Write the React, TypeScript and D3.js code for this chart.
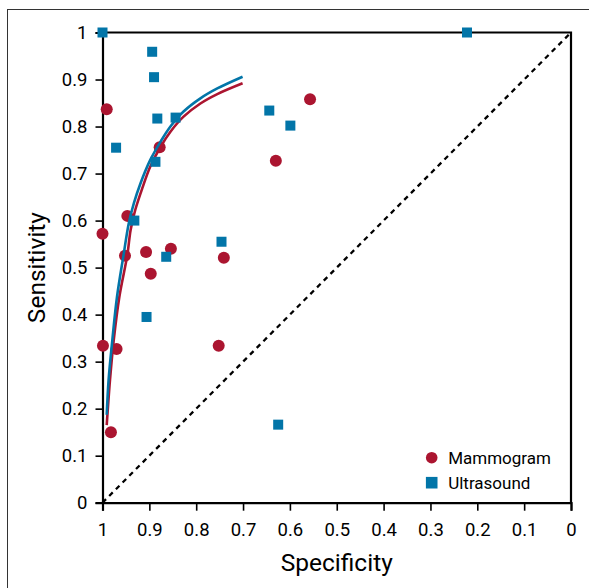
import * as d3 from 'd3';
import React, { useEffect, useRef } from 'react';

// study points: [specificity, sensitivity]
const mammogramSpec = [0.991, 1.0, 0.947, 0.952, 0.907, 0.897, 0.854, 0.741, 0.999, 0.97, 0.752, 0.982, 0.878, 0.557, 0.63];
const mammogramSens = [0.837, 0.572, 0.61, 0.525, 0.533, 0.487, 0.54, 0.521, 0.334, 0.327, 0.334, 0.15, 0.756, 0.858, 0.727];

const ultrasoundSpec = [1.0, 0.894, 0.89, 0.883, 0.844, 0.971, 0.887, 0.932, 0.864, 0.746, 0.906, 0.625, 0.644, 0.599, 0.222];
const ultrasoundSens = [1.0, 0.959, 0.905, 0.817, 0.819, 0.755, 0.725, 0.6, 0.523, 0.555, 0.395, 0.166, 0.834, 0.802, 1.0];

// summary ROC curves, traced
const ultraCurveSpec = [0.701, 0.755, 0.791, 0.827, 0.855, 0.876, 0.898, 0.919, 0.933, 0.944, 0.955, 0.969, 0.979, 0.987, 0.991];
const ultraCurveSens = [0.906, 0.881, 0.86, 0.832, 0.8, 0.768, 0.729, 0.679, 0.637, 0.594, 0.527, 0.438, 0.346, 0.261, 0.187];
const mammoCurveSpec = [0.701, 0.755, 0.791, 0.827, 0.855, 0.876, 0.898, 0.915, 0.93, 0.94, 0.947, 0.964, 0.976, 0.984, 0.991];
const mammoCurveSens = [0.892, 0.869, 0.849, 0.821, 0.789, 0.757, 0.715, 0.669, 0.623, 0.58, 0.527, 0.438, 0.346, 0.261, 0.165];

const ticks = [0, 0.1, 0.2, 0.3, 0.4, 0.5, 0.6, 0.7, 0.8, 0.9, 1];
const legendLabels = ['Mammogram', 'Ultrasound'];

const RED = '#ab1530';
const BLUE = '#0275a8';
const FONT = 'Roboto, "Noto Sans", sans-serif';

const App = () => {
    const ref = useRef(null);

    useEffect(() => {
        const svg = d3.select(ref.current);
        svg.selectAll('*').remove();

        const x = d3.scaleLinear().domain([1, 0]).range([102.5, 571]);
        const y = d3.scaleLinear().domain([0, 1]).range([502.7, 32.5]);

        // outer frame (cut off on right and bottom)
        svg.append('rect')
            .attr('x', 7.5).attr('y', 9.5)
            .attr('width', 640).attr('height', 640)
            .attr('fill', 'none').attr('stroke', '#333').attr('stroke-width', 1);

        const xAxis = svg.append('g')
            .attr('transform', `translate(0,${y(0)})`)
            .call(d3.axisBottom(x).tickValues(ticks).tickSize(8).tickPadding(12)
                .tickFormat(d => d3.format('~g')(d)));
        const yAxis = svg.append('g')
            .attr('transform', `translate(${x(1)},0)`)
            .call(d3.axisLeft(y).tickValues(ticks).tickSize(7).tickPadding(8)
                .tickFormat(d => d3.format('~g')(d)));

        [xAxis, yAxis].forEach(g => {
            g.select('.domain').attr('stroke', '#000').attr('stroke-width', 2.2);
            g.selectAll('.tick line').attr('stroke', '#000').attr('stroke-width', 1.6);
            g.selectAll('.tick text')
                .attr('fill', '#000')
                .style('font-family', FONT)
                .style('font-size', '18.5px');
        });

        // top and right frame
        svg.append('path')
            .attr('d', `M${x(1)},${y(1)}H${x(0)}V${y(0)}`)
            .attr('fill', 'none').attr('stroke', '#000').attr('stroke-width', 2.2);

        // chance line
        svg.append('line')
            .attr('x1', x(1)).attr('y1', y(0))
            .attr('x2', x(0)).attr('y2', y(1))
            .attr('stroke', '#000').attr('stroke-width', 2.3)
            .attr('stroke-dasharray', '5,4.5');

        svg.selectAll('circle.mammo')
            .data(mammogramSpec.map((s, i) => [s, mammogramSens[i]]))
            .enter().append('circle')
            .attr('class', 'mammo')
            .attr('cx', d => x(d[0]))
            .attr('cy', d => y(d[1]))
            .attr('r', 6)
            .attr('fill', RED);

        const line = d3.line()
            .x(d => x(d[0]))
            .y(d => y(d[1]))
            .curve(d3.curveCatmullRom);

        svg.append('path')
            .datum(mammoCurveSpec.map((s, i) => [s, mammoCurveSens[i]]))
            .attr('d', line)
            .attr('fill', 'none').attr('stroke', RED).attr('stroke-width', 2.6);
        svg.append('path')
            .datum(ultraCurveSpec.map((s, i) => [s, ultraCurveSens[i]]))
            .attr('d', line)
            .attr('fill', 'none').attr('stroke', BLUE).attr('stroke-width', 2.6);

        const sq = 10;
        svg.selectAll('rect.ultra')
            .data(ultrasoundSpec.map((s, i) => [s, ultrasoundSens[i]]))
            .enter().append('rect')
            .attr('class', 'ultra')
            .attr('x', d => x(d[0]) - sq / 2)
            .attr('y', d => y(d[1]) - sq / 2)
            .attr('width', sq).attr('height', sq)
            .attr('fill', BLUE);

        // legend
        const legend = svg.append('g').attr('transform', 'translate(431.7,457.7)');
        legend.append('circle').attr('r', 5.8).attr('fill', RED);
        legend.append('rect').attr('x', -5.8).attr('y', 25 - 5.8)
            .attr('width', 11.6).attr('height', 11.6).attr('fill', BLUE);
        legendLabels.forEach((label, i) => {
            legend.append('text')
                .attr('x', 16.5)
                .attr('y', i * 25 + 6)
                .style('font-family', FONT)
                .style('font-size', '17px')
                .attr('fill', '#000')
                .text(label);
        });

        svg.append('text')
            .attr('x', (x(1) + x(0)) / 2)
            .attr('y', 571)
            .attr('text-anchor', 'middle')
            .style('font-family', FONT)
            .style('font-size', '24.5px')
            .attr('fill', '#000')
            .text('Specificity');

        svg.append('text')
            .attr('transform', `translate(45,${(y(0) + y(1)) / 2}) rotate(-90)`)
            .attr('text-anchor', 'middle')
            .style('font-family', FONT)
            .style('font-size', '24.5px')
            .attr('fill', '#000')
            .text('Sensitivity');
    }, []);

    return (
        <svg
            ref={ref}
            width={589}
            height={588}
            style={{ position: 'absolute', left: 0, top: 0, background: '#fff' }}
        />
    );
};

export default App;
